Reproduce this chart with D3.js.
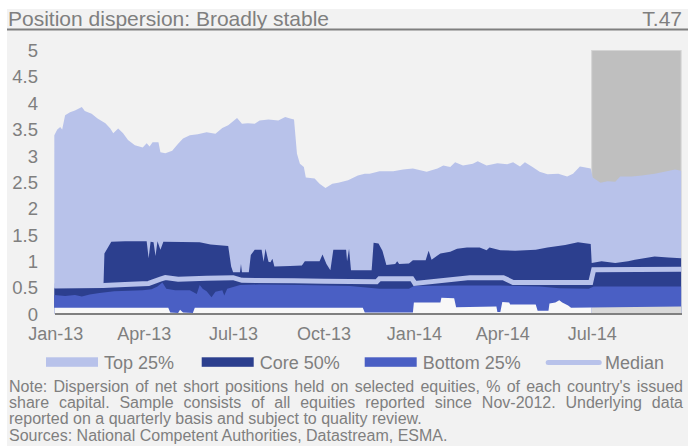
<!DOCTYPE html>
<html><head><meta charset="utf-8">
<script src="https://cdn.jsdelivr.net/npm/d3@7"></script>
<style>
body{margin:0;background:#fff}
svg{display:block}
text{font-family:"Liberation Sans",Arial,sans-serif;fill:#7f7f7f}
</style>
</head><body>
<svg id="c" width="688" height="446"></svg>
<script>
// ---------- DATA ----------
const titleText = "Position dispersion: Broadly stable";
const tagText = "T.47";
const yTicks = [0,0.5,1,1.5,2,2.5,3,3.5,4,4.5,5];
const xTicks = ["2013-01-01","2013-04-01","2013-07-01","2013-10-01","2014-01-01","2014-04-01","2014-07-01"];
const legendLabels = ["Top 25%","Core 50%","Bottom 25%","Median"];
const shadePeriod = ["2014-07-01","2014-09-30"];
const noteLines = [
  "Note: Dispersion of net short positions held on selected equities, % of each country's issued",
  "share capital. Sample consists of all equities reported since Nov-2012. Underlying data",
  "reported on a quarterly basis and subject to quality review.",
  "Sources: National Competent Authorities, Datastream, ESMA."
];
// upper bound of Top 25%
const topSeries = [["2012-12-31",3.39],["2013-01-03",3.50],["2013-01-06",3.55],["2013-01-08",3.50],["2013-01-11",3.77],["2013-01-16",3.83],["2013-01-21",3.86],["2013-01-28",3.93],["2013-01-31",3.85],["2013-02-07",3.80],["2013-02-13",3.71],["2013-02-21",3.62],["2013-02-26",3.52],["2013-03-01",3.43],["2013-03-06",3.52],["2013-03-11",3.43],["2013-03-16",3.30],["2013-03-23",3.20],["2013-03-31",3.16],["2013-04-04",3.24],["2013-04-07",3.18],["2013-04-10",3.26],["2013-04-16",3.26],["2013-04-18",3.07],["2013-04-23",3.05],["2013-04-30",3.10],["2013-05-06",3.23],["2013-05-11",3.33],["2013-05-18",3.39],["2013-05-26",3.41],["2013-06-04",3.45],["2013-06-13",3.42],["2013-06-20",3.53],["2013-06-26",3.58],["2013-07-05",3.72],["2013-07-10",3.61],["2013-07-16",3.62],["2013-07-23",3.61],["2013-07-28",3.67],["2013-08-06",3.69],["2013-08-16",3.67],["2013-08-23",3.74],["2013-08-28",3.71],["2013-09-01",3.69],["2013-09-04",3.04],["2013-09-07",2.85],["2013-09-11",2.79],["2013-09-13",2.59],["2013-09-22",2.57],["2013-09-27",2.47],["2013-10-03",2.39],["2013-10-10",2.47],["2013-10-16",2.49],["2013-10-26",2.54],["2013-11-05",2.63],["2013-11-12",2.66],["2013-11-17",2.66],["2013-11-27",2.71],["2013-12-11",2.71],["2013-12-21",2.74],["2013-12-31",2.76],["2014-01-14",2.70],["2014-01-25",2.76],["2014-01-31",2.82],["2014-02-07",2.79],["2014-02-12",2.88],["2014-02-20",2.82],["2014-03-02",2.85],["2014-03-07",2.90],["2014-03-16",2.82],["2014-03-27",2.86],["2014-04-06",2.84],["2014-04-12",2.88],["2014-04-19",2.80],["2014-04-24",2.88],["2014-05-01",2.80],["2014-05-09",2.70],["2014-05-17",2.65],["2014-05-28",2.66],["2014-06-06",2.61],["2014-06-12",2.66],["2014-06-19",2.80],["2014-06-22",2.79],["2014-06-30",2.76],["2014-07-02",2.59],["2014-07-10",2.49],["2014-07-17",2.52],["2014-07-25",2.51],["2014-07-30",2.61],["2014-08-11",2.61],["2014-08-21",2.63],["2014-09-03",2.66],["2014-09-13",2.70],["2014-09-24",2.74],["2014-09-30",2.72]];
// upper bound of Core 50% (75th percentile)
const coreSeries = [["2012-12-31",0.50],["2013-01-16",0.52],["2013-01-31",0.50],["2013-02-19",0.51],["2013-02-20",1.15],["2013-02-27",1.37],["2013-03-13",1.38],["2013-04-04",1.38],["2013-04-06",1.06],["2013-04-08",1.37],["2013-04-11",1.36],["2013-04-13",1.10],["2013-04-15",1.38],["2013-04-18",1.22],["2013-04-21",1.37],["2013-05-28",1.36],["2013-06-08",1.32],["2013-06-26",1.29],["2013-06-29",0.90],["2013-07-01",0.79],["2013-07-08",0.79],["2013-07-09",0.95],["2013-07-10",0.79],["2013-07-17",0.79],["2013-07-19",1.12],["2013-07-23",1.22],["2013-07-30",1.22],["2013-08-01",0.99],["2013-08-03",1.24],["2013-08-06",0.99],["2013-08-08",0.98],["2013-08-10",1.05],["2013-08-12",0.90],["2013-08-28",0.91],["2013-09-09",0.92],["2013-09-12",1.00],["2013-09-27",1.00],["2013-09-30",1.13],["2013-10-04",0.95],["2013-10-08",0.83],["2013-10-11",1.22],["2013-10-24",1.22],["2013-10-25",1.00],["2013-10-27",1.24],["2013-10-29",0.83],["2013-11-19",0.83],["2013-11-21",1.35],["2013-11-26",1.34],["2013-11-30",1.20],["2013-12-04",0.93],["2013-12-13",0.95],["2013-12-15",1.00],["2013-12-17",0.95],["2013-12-27",0.96],["2013-12-31",1.02],["2014-01-13",1.02],["2014-01-16",1.20],["2014-01-19",1.03],["2014-01-28",1.15],["2014-02-07",1.18],["2014-02-14",1.24],["2014-02-24",1.26],["2014-03-09",1.26],["2014-03-16",1.21],["2014-03-19",1.26],["2014-03-30",1.21],["2014-04-14",1.20],["2014-05-05",1.22],["2014-05-17",1.26],["2014-06-04",1.31],["2014-06-17",1.36],["2014-06-30",1.33],["2014-07-01",0.97],["2014-07-11",1.00],["2014-07-25",0.97],["2014-08-07",1.00],["2014-08-14",1.03],["2014-09-03",1.09],["2014-09-17",1.07],["2014-09-30",1.06]];
// upper bound of Bottom 25% (25th percentile)
const bottomSeries = [["2012-12-31",0.36],["2013-01-11",0.34],["2013-01-21",0.36],["2013-01-28",0.33],["2013-02-05",0.37],["2013-02-15",0.40],["2013-03-02",0.43],["2013-03-17",0.44],["2013-03-31",0.45],["2013-04-09",0.47],["2013-04-15",0.52],["2013-04-20",0.60],["2013-04-24",0.48],["2013-05-03",0.45],["2013-05-18",0.45],["2013-05-25",0.38],["2013-05-28",0.55],["2013-05-31",0.48],["2013-06-04",0.43],["2013-06-09",0.32],["2013-06-13",0.42],["2013-06-20",0.45],["2013-06-22",0.35],["2013-06-25",0.48],["2013-07-08",0.55],["2013-07-28",0.56],["2013-09-07",0.55],["2013-10-28",0.53],["2013-11-27",0.48],["2013-12-27",0.48],["2014-01-01",0.53],["2014-02-17",0.54],["2014-03-30",0.54],["2014-05-09",0.52],["2014-05-29",0.49],["2014-06-28",0.48],["2014-07-03",0.52],["2014-09-30",0.52]];
// lower bound of Bottom 25%
const baseSeries = [["2012-12-31",0.12],["2013-04-26",0.12],["2013-04-28",0.03],["2013-05-06",0.02],["2013-05-08",0.08],["2013-05-11",0.03],["2013-05-21",0.02],["2013-05-23",0.12],["2013-11-10",0.12],["2013-11-12",0.03],["2013-12-31",0.03],["2014-01-01",0.22],["2014-01-28",0.22],["2014-01-29",0.31],["2014-02-11",0.30],["2014-02-13",0.13],["2014-03-26",0.14],["2014-03-27",0.04],["2014-03-30",0.04],["2014-04-01",0.23],["2014-04-08",0.22],["2014-04-09",0.18],["2014-05-05",0.18],["2014-05-07",0.06],["2014-05-18",0.06],["2014-05-19",0.20],["2014-05-25",0.22],["2014-05-29",0.26],["2014-06-01",0.22],["2014-06-07",0.16],["2014-06-10",0.12],["2014-09-30",0.14]];
const medianSeries = [["2012-12-31",0.53],["2013-02-19",0.54],["2013-03-13",0.56],["2013-04-06",0.58],["2013-04-18",0.66],["2013-04-23",0.69],["2013-05-06",0.66],["2013-06-04",0.68],["2013-07-01",0.69],["2013-07-10",0.64],["2013-09-01",0.63],["2013-10-01",0.62],["2013-11-24",0.61],["2013-11-27",0.67],["2013-12-30",0.67],["2014-01-02",0.58],["2014-02-27",0.69],["2014-04-02",0.69],["2014-04-12",0.60],["2014-06-30",0.60],["2014-07-03",0.84],["2014-09-30",0.85]];

// ---------- DRAWING ----------
const C = {bg:"#f2f2f2", top:"#b8c2ea", core:"#2c3f8e", bottom:"#4a5fc4", shade:"#bfbfbf", shadeLow:"#d9d9d9", baseFill:"#f8f8f8", text:"#7f7f7f"};
const parse = d3.utcParse("%Y-%m-%d");
const svg = d3.select("#c");

svg.append("rect").attr("x",7).attr("y",9).attr("width",681).attr("height",437).attr("fill",C.bg);
svg.append("text").attr("x",8).attr("y",26).attr("font-size",21).text(titleText);
svg.append("text").attr("x",682).attr("y",26).attr("font-size",21).attr("text-anchor","end").text(tagText);
svg.append("line").attr("x1",7).attr("x2",688).attr("y1",29.5).attr("y2",29.5).attr("stroke","#7f7f7f").attr("stroke-width",2.2);

const xS = d3.scaleUtc().domain([parse("2013-01-01"), parse("2014-07-01")]).range([55.3, 591.7]);
const yS = d3.scaleLinear().domain([0,5]).range([314, 50.5]);

const conv = s => s.map(d => ({date: parse(d[0]), v: d[1]}));
const topPts = conv(topSeries), corePts = conv(coreSeries), botPts = conv(bottomSeries), basePts = conv(baseSeries), medPts = conv(medianSeries);

// shaded period
const s0 = xS(parse(shadePeriod[0])), s1 = xS(parse(shadePeriod[1]));
svg.append("rect").attr("x",s0).attr("y",yS(5)).attr("width",s1-s0).attr("height",yS(0)-yS(5))
  .attr("fill",C.shade).attr("stroke","#d4d4d4").attr("stroke-width",1);

const area = d3.area().x(d=>xS(d.date)).y0(yS(0)).y1(d=>yS(d.v));
svg.append("path").datum(topPts).attr("d",area).attr("fill",C.top);
svg.append("path").datum(corePts).attr("d",area).attr("fill",C.core);
svg.append("path").datum(botPts).attr("d",area).attr("fill",C.bottom);

const defs = svg.append("defs");
defs.append("clipPath").attr("id","clipA").append("rect").attr("x",0).attr("y",0).attr("width",s0).attr("height",446);
defs.append("clipPath").attr("id","clipB").append("rect").attr("x",s0).attr("y",0).attr("width",688-s0).attr("height",446);
svg.append("path").datum(basePts).attr("d",area).attr("fill",C.baseFill).attr("clip-path","url(#clipA)");
svg.append("path").datum(basePts).attr("d",area).attr("fill",C.shadeLow).attr("clip-path","url(#clipB)");

svg.append("path").datum(medPts).attr("d",d3.line().x(d=>xS(d.date)).y(d=>yS(d.v)))
  .attr("fill","none").attr("stroke",C.top).attr("stroke-width",5);

// axes
const yAxis = d3.axisLeft(yS).tickValues(yTicks).tickSize(0).tickPadding(0).tickFormat(d3.format("~g"));
const gy = svg.append("g").attr("transform","translate(38,0)").call(yAxis);
gy.select(".domain").remove();
gy.selectAll("text").attr("font-size",18.5).attr("dy","0.33em").attr("fill",C.text);
gy.attr("font-family",null);

const xAxis = d3.axisBottom(xS).tickValues(xTicks.map(parse)).tickSize(0).tickPadding(0).tickFormat(d3.utcFormat("%b-%y"));
const gx = svg.append("g").attr("transform","translate(0,340.3)").call(xAxis);
gx.select(".domain").remove();
gx.selectAll("text").attr("font-size",18).attr("dy",0).attr("y",0).attr("fill",C.text);
gx.attr("font-family",null);

svg.append("line").attr("x1",55).attr("x2",682).attr("y1",yS(0)).attr("y2",yS(0)).attr("stroke","#808080").attr("stroke-width",2);

// legend
const lg = svg.append("g");
const swX = [46, 201.7, 364.7];
const swC = [C.top, C.core, C.bottom];
swX.forEach((sx,i)=>{
  lg.append("rect").attr("x",sx).attr("y",357.3).attr("width",52).attr("height",9.5).attr("fill",swC[i]);
  lg.append("text").attr("x",sx+58).attr("y",368.5).attr("font-size",18).text(legendLabels[i]);
});
lg.append("line").attr("x1",548.2).attr("x2",599.2).attr("y1",362.5).attr("y2",362.5).attr("stroke",C.top).attr("stroke-width",5).attr("stroke-linecap","round");
lg.append("text").attr("x",605).attr("y",368.5).attr("font-size",18).text(legendLabels[3]);

// notes (first two lines justified)
const nx0 = 9, nx1 = 683, nBase = [391.5, 407.8, 424.1, 440.7];
noteLines.forEach((line,i)=>{
  const t = svg.append("text").attr("y",nBase[i]).attr("font-size",16);
  if (i < 2) {
    const words = line.split(" ");
    const widths = words.map(w => { const tmp = svg.append("text").attr("font-size",16).text(w); const wd = tmp.node().getComputedTextLength(); tmp.remove(); return wd; });
    const total = d3.sum(widths);
    const gap = (nx1 - nx0 - total) / (words.length - 1);
    let cx = nx0;
    words.forEach((w,j)=>{ t.append("tspan").attr("x",cx).text(w); cx += widths[j] + gap; });
  } else {
    t.attr("x",nx0).text(line);
  }
});
</script>
</body></html>
